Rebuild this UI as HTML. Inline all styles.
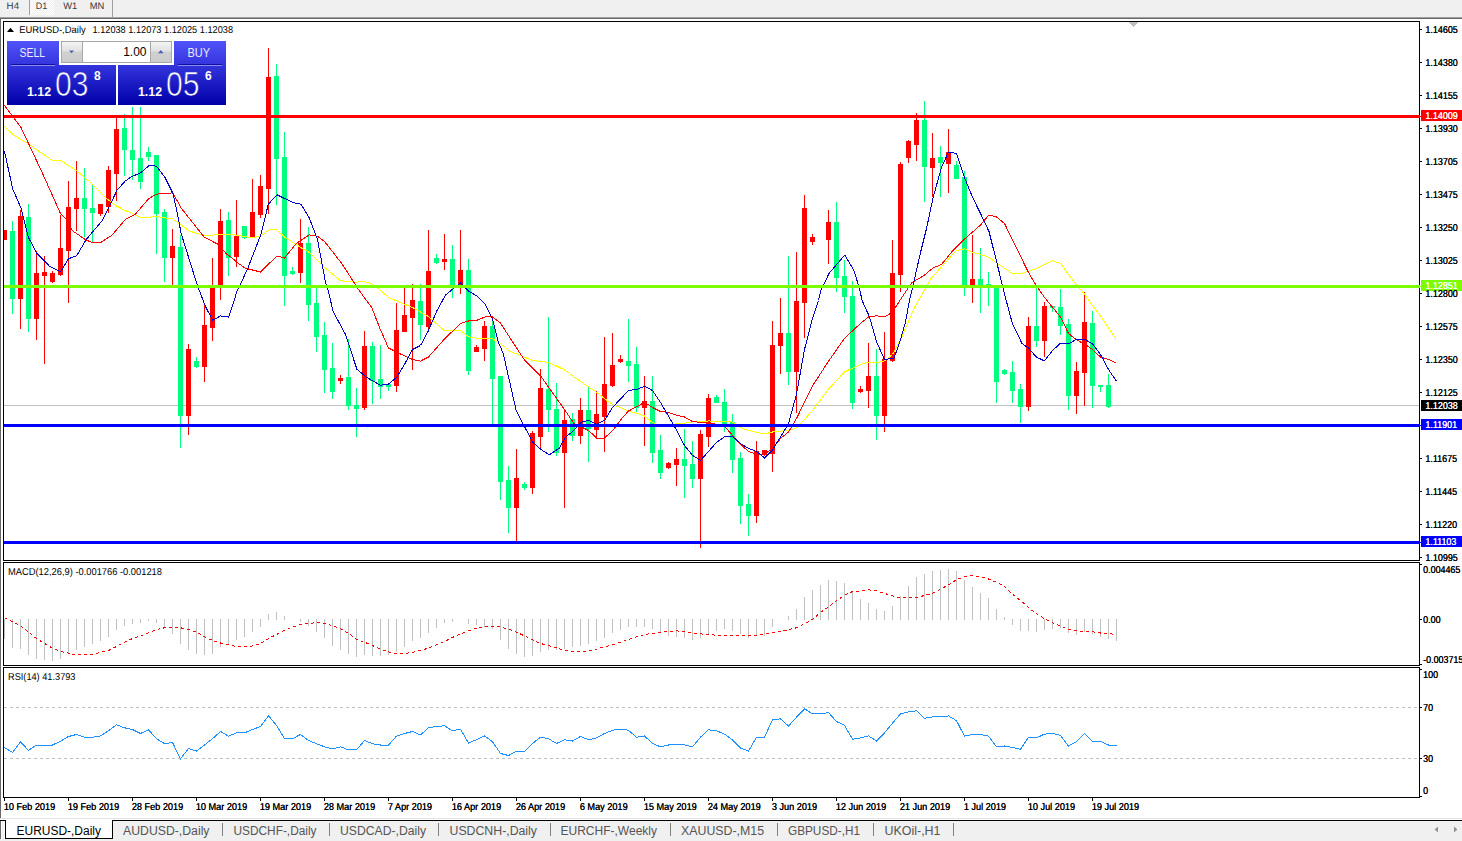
<!DOCTYPE html><html><head><meta charset="utf-8"><title>EURUSD-,Daily</title>
<style>
html,body{margin:0;padding:0;background:#fff;}
body{width:1462px;height:841px;overflow:hidden;position:relative;font-family:"Liberation Sans",sans-serif;}
svg{position:absolute;left:0;top:0;}
text{font-family:"Liberation Sans",sans-serif;}
.ax{font-size:10px;fill:#000;text-rendering:geometricPrecision;}
.tg{font-size:10px;fill:#fff;text-rendering:geometricPrecision;}
.tab{font-size:12px;fill:#555;}
</style></head><body>
<svg width="1462" height="841" viewBox="0 0 1462 841">
<rect x="0" y="0" width="1462" height="841" fill="#fff"/>
<rect x="0" y="0" width="1462" height="17" fill="#F0F0F0"/>
<rect x="0" y="17" width="1462" height="1" fill="#A0A0A0"/>
<rect x="0" y="18" width="1462" height="1" fill="#696969"/>
<rect x="0" y="19" width="1" height="799" fill="#696969"/>
<g shape-rendering="crispEdges">
<rect x="29" y="0" width="1" height="15" fill="#A0A0A0"/>
<rect x="112" y="0" width="1" height="17" fill="#A0A0A0"/>
<defs><pattern id="dith" width="2" height="2" patternUnits="userSpaceOnUse"><rect width="2" height="2" fill="#F0F0F0"/><rect width="1" height="1" fill="#fff"/><rect x="1" y="1" width="1" height="1" fill="#fff"/></pattern>
<linearGradient id="bg1" gradientUnits="userSpaceOnUse" x1="0" y1="41" x2="0" y2="105"><stop offset="0" stop-color="#5252FA"/><stop offset="0.38" stop-color="#3434DC"/><stop offset="1" stop-color="#0000A8"/></linearGradient>
<linearGradient id="btn" x1="0" y1="0" x2="0" y2="1"><stop offset="0" stop-color="#F4F4F4"/><stop offset="0.45" stop-color="#E2E2E2"/><stop offset="0.5" stop-color="#D0D0D0"/><stop offset="1" stop-color="#CDCDCD"/></linearGradient>
</defs>
<rect x="30" y="0" width="24" height="15" fill="url(#dith)"/>
</g>
<text x="6.6" y="8.7" font-size="9.3" fill="#3a3a3a" style="text-rendering:geometricPrecision" textLength="12.5" lengthAdjust="spacingAndGlyphs">H4</text>
<text x="35.7" y="8.7" font-size="9.3" fill="#3a3a3a" style="text-rendering:geometricPrecision" textLength="11.5" lengthAdjust="spacingAndGlyphs">D1</text>
<text x="63.2" y="8.7" font-size="9.3" fill="#3a3a3a" style="text-rendering:geometricPrecision" textLength="14" lengthAdjust="spacingAndGlyphs">W1</text>
<text x="89.7" y="8.7" font-size="9.3" fill="#3a3a3a" style="text-rendering:geometricPrecision" textLength="14.6" lengthAdjust="spacingAndGlyphs">MN</text>
<path d="M3.5 21.5H1419.5V560.5H3.5Z" fill="none" stroke="#000" stroke-width="1" shape-rendering="crispEdges"/>
<path d="M3.5 562.5H1419.5V665.5H3.5Z" fill="none" stroke="#000" stroke-width="1" shape-rendering="crispEdges"/>
<path d="M3.5 667.5H1419.5V797.5H3.5Z" fill="none" stroke="#000" stroke-width="1" shape-rendering="crispEdges"/>
<g shape-rendering="crispEdges">
<path d="M1129 22H1138L1133.5 27Z" fill="#C0C0C0"/>
<rect x="4" y="405" width="1415" height="1" fill="#C0C0C0"/>
<rect x="4" y="230" width="1" height="10" fill="#FF0000"/>
<rect x="4" y="230" width="3" height="10" fill="#FF0000"/>
<rect x="12" y="221" width="1" height="93" fill="#00FF7F"/>
<rect x="10" y="231" width="5" height="68" fill="#00FF7F"/>
<rect x="20" y="210" width="1" height="119" fill="#FF0000"/>
<rect x="18" y="216" width="5" height="83" fill="#FF0000"/>
<rect x="28" y="204" width="1" height="128" fill="#00FF7F"/>
<rect x="26" y="217" width="5" height="102" fill="#00FF7F"/>
<rect x="36" y="251" width="1" height="89" fill="#FF0000"/>
<rect x="34" y="273" width="5" height="46" fill="#FF0000"/>
<rect x="44" y="256" width="1" height="108" fill="#FF0000"/>
<rect x="42" y="272" width="5" height="4" fill="#FF0000"/>
<rect x="52" y="271" width="1" height="12" fill="#FF0000"/>
<rect x="50" y="273" width="5" height="9" fill="#FF0000"/>
<rect x="60" y="215" width="1" height="61" fill="#FF0000"/>
<rect x="58" y="248" width="5" height="27" fill="#FF0000"/>
<rect x="68" y="181" width="1" height="122" fill="#FF0000"/>
<rect x="66" y="207" width="5" height="44" fill="#FF0000"/>
<rect x="76" y="161" width="1" height="70" fill="#FF0000"/>
<rect x="74" y="198" width="5" height="11" fill="#FF0000"/>
<rect x="84" y="168" width="1" height="69" fill="#00FF7F"/>
<rect x="82" y="198" width="5" height="11" fill="#00FF7F"/>
<rect x="92" y="184" width="1" height="59" fill="#00FF7F"/>
<rect x="90" y="208" width="5" height="5" fill="#00FF7F"/>
<rect x="100" y="204" width="1" height="12" fill="#FF0000"/>
<rect x="98" y="204" width="5" height="10" fill="#FF0000"/>
<rect x="108" y="166" width="1" height="47" fill="#FF0000"/>
<rect x="106" y="170" width="5" height="37" fill="#FF0000"/>
<rect x="116" y="117" width="1" height="84" fill="#FF0000"/>
<rect x="114" y="129" width="5" height="45" fill="#FF0000"/>
<rect x="124" y="114" width="1" height="62" fill="#00FF7F"/>
<rect x="122" y="128" width="5" height="22" fill="#00FF7F"/>
<rect x="132" y="107" width="1" height="73" fill="#00FF7F"/>
<rect x="130" y="150" width="5" height="10" fill="#00FF7F"/>
<rect x="140" y="107" width="1" height="82" fill="#00FF7F"/>
<rect x="138" y="158" width="5" height="24" fill="#00FF7F"/>
<rect x="148" y="147" width="1" height="14" fill="#00FF7F"/>
<rect x="146" y="152" width="5" height="5" fill="#00FF7F"/>
<rect x="156" y="155" width="1" height="99" fill="#00FF7F"/>
<rect x="154" y="155" width="5" height="59" fill="#00FF7F"/>
<rect x="164" y="209" width="1" height="73" fill="#00FF7F"/>
<rect x="162" y="212" width="5" height="46" fill="#00FF7F"/>
<rect x="172" y="229" width="1" height="59" fill="#FF0000"/>
<rect x="170" y="246" width="5" height="12" fill="#FF0000"/>
<rect x="180" y="235" width="1" height="213" fill="#00FF7F"/>
<rect x="178" y="247" width="5" height="169" fill="#00FF7F"/>
<rect x="188" y="344" width="1" height="91" fill="#FF0000"/>
<rect x="186" y="349" width="5" height="67" fill="#FF0000"/>
<rect x="196" y="357" width="1" height="11" fill="#00FF7F"/>
<rect x="194" y="361" width="5" height="6" fill="#00FF7F"/>
<rect x="204" y="304" width="1" height="78" fill="#FF0000"/>
<rect x="202" y="325" width="5" height="42" fill="#FF0000"/>
<rect x="212" y="258" width="1" height="83" fill="#FF0000"/>
<rect x="210" y="288" width="5" height="40" fill="#FF0000"/>
<rect x="220" y="209" width="1" height="91" fill="#FF0000"/>
<rect x="218" y="221" width="5" height="65" fill="#FF0000"/>
<rect x="228" y="212" width="1" height="64" fill="#00FF7F"/>
<rect x="226" y="220" width="5" height="38" fill="#00FF7F"/>
<rect x="236" y="200" width="1" height="67" fill="#FF0000"/>
<rect x="234" y="236" width="5" height="21" fill="#FF0000"/>
<rect x="244" y="226" width="1" height="13" fill="#00FF7F"/>
<rect x="242" y="226" width="5" height="12" fill="#00FF7F"/>
<rect x="252" y="179" width="1" height="59" fill="#FF0000"/>
<rect x="250" y="212" width="5" height="26" fill="#FF0000"/>
<rect x="260" y="175" width="1" height="43" fill="#FF0000"/>
<rect x="258" y="186" width="5" height="29" fill="#FF0000"/>
<rect x="268" y="48" width="1" height="166" fill="#FF0000"/>
<rect x="266" y="77" width="5" height="112" fill="#FF0000"/>
<rect x="276" y="64" width="1" height="141" fill="#00FF7F"/>
<rect x="274" y="76" width="5" height="83" fill="#00FF7F"/>
<rect x="284" y="132" width="1" height="174" fill="#00FF7F"/>
<rect x="282" y="157" width="5" height="119" fill="#00FF7F"/>
<rect x="292" y="267" width="1" height="8" fill="#00FF7F"/>
<rect x="290" y="271" width="5" height="3" fill="#00FF7F"/>
<rect x="300" y="219" width="1" height="64" fill="#FF0000"/>
<rect x="298" y="243" width="5" height="30" fill="#FF0000"/>
<rect x="308" y="227" width="1" height="94" fill="#00FF7F"/>
<rect x="306" y="243" width="5" height="62" fill="#00FF7F"/>
<rect x="316" y="288" width="1" height="64" fill="#00FF7F"/>
<rect x="314" y="303" width="5" height="34" fill="#00FF7F"/>
<rect x="324" y="322" width="1" height="71" fill="#00FF7F"/>
<rect x="322" y="335" width="5" height="35" fill="#00FF7F"/>
<rect x="332" y="343" width="1" height="56" fill="#00FF7F"/>
<rect x="330" y="368" width="5" height="24" fill="#00FF7F"/>
<rect x="340" y="375" width="1" height="9" fill="#FF0000"/>
<rect x="338" y="378" width="5" height="3" fill="#FF0000"/>
<rect x="348" y="339" width="1" height="71" fill="#00FF7F"/>
<rect x="346" y="377" width="5" height="29" fill="#00FF7F"/>
<rect x="356" y="388" width="1" height="49" fill="#00FF7F"/>
<rect x="354" y="405" width="5" height="4" fill="#00FF7F"/>
<rect x="364" y="331" width="1" height="79" fill="#FF0000"/>
<rect x="362" y="346" width="5" height="62" fill="#FF0000"/>
<rect x="372" y="342" width="1" height="62" fill="#00FF7F"/>
<rect x="370" y="346" width="5" height="35" fill="#00FF7F"/>
<rect x="380" y="345" width="1" height="54" fill="#00FF7F"/>
<rect x="378" y="379" width="5" height="8" fill="#00FF7F"/>
<rect x="388" y="384" width="1" height="7" fill="#00FF7F"/>
<rect x="386" y="384" width="5" height="3" fill="#00FF7F"/>
<rect x="396" y="303" width="1" height="89" fill="#FF0000"/>
<rect x="394" y="330" width="5" height="56" fill="#FF0000"/>
<rect x="404" y="288" width="1" height="44" fill="#FF0000"/>
<rect x="402" y="315" width="5" height="17" fill="#FF0000"/>
<rect x="412" y="284" width="1" height="86" fill="#FF0000"/>
<rect x="410" y="300" width="5" height="18" fill="#FF0000"/>
<rect x="420" y="284" width="1" height="56" fill="#00FF7F"/>
<rect x="418" y="301" width="5" height="24" fill="#00FF7F"/>
<rect x="428" y="230" width="1" height="100" fill="#FF0000"/>
<rect x="426" y="271" width="5" height="56" fill="#FF0000"/>
<rect x="436" y="254" width="1" height="10" fill="#00FF7F"/>
<rect x="434" y="258" width="5" height="5" fill="#00FF7F"/>
<rect x="444" y="234" width="1" height="36" fill="#FF0000"/>
<rect x="442" y="259" width="5" height="3" fill="#FF0000"/>
<rect x="452" y="245" width="1" height="53" fill="#00FF7F"/>
<rect x="450" y="259" width="5" height="29" fill="#00FF7F"/>
<rect x="460" y="230" width="1" height="64" fill="#FF0000"/>
<rect x="458" y="270" width="5" height="16" fill="#FF0000"/>
<rect x="468" y="259" width="1" height="116" fill="#00FF7F"/>
<rect x="466" y="270" width="5" height="101" fill="#00FF7F"/>
<rect x="476" y="345" width="1" height="7" fill="#FF0000"/>
<rect x="474" y="347" width="5" height="5" fill="#FF0000"/>
<rect x="484" y="321" width="1" height="40" fill="#FF0000"/>
<rect x="482" y="326" width="5" height="23" fill="#FF0000"/>
<rect x="492" y="318" width="1" height="109" fill="#00FF7F"/>
<rect x="490" y="326" width="5" height="53" fill="#00FF7F"/>
<rect x="500" y="376" width="1" height="124" fill="#00FF7F"/>
<rect x="498" y="376" width="5" height="106" fill="#00FF7F"/>
<rect x="508" y="466" width="1" height="67" fill="#00FF7F"/>
<rect x="506" y="480" width="5" height="28" fill="#00FF7F"/>
<rect x="516" y="449" width="1" height="93" fill="#FF0000"/>
<rect x="514" y="478" width="5" height="30" fill="#FF0000"/>
<rect x="524" y="482" width="1" height="8" fill="#00FF7F"/>
<rect x="522" y="484" width="5" height="4" fill="#00FF7F"/>
<rect x="532" y="431" width="1" height="63" fill="#FF0000"/>
<rect x="530" y="433" width="5" height="55" fill="#FF0000"/>
<rect x="540" y="369" width="1" height="80" fill="#FF0000"/>
<rect x="538" y="388" width="5" height="49" fill="#FF0000"/>
<rect x="548" y="317" width="1" height="115" fill="#00FF7F"/>
<rect x="546" y="389" width="5" height="21" fill="#00FF7F"/>
<rect x="556" y="383" width="1" height="73" fill="#00FF7F"/>
<rect x="554" y="409" width="5" height="44" fill="#00FF7F"/>
<rect x="564" y="410" width="1" height="98" fill="#FF0000"/>
<rect x="562" y="420" width="5" height="33" fill="#FF0000"/>
<rect x="572" y="413" width="1" height="28" fill="#00FF7F"/>
<rect x="570" y="419" width="5" height="17" fill="#00FF7F"/>
<rect x="580" y="398" width="1" height="46" fill="#FF0000"/>
<rect x="578" y="410" width="5" height="26" fill="#FF0000"/>
<rect x="588" y="386" width="1" height="76" fill="#00FF7F"/>
<rect x="586" y="410" width="5" height="19" fill="#00FF7F"/>
<rect x="596" y="391" width="1" height="48" fill="#FF0000"/>
<rect x="594" y="414" width="5" height="16" fill="#FF0000"/>
<rect x="604" y="337" width="1" height="115" fill="#FF0000"/>
<rect x="602" y="384" width="5" height="33" fill="#FF0000"/>
<rect x="612" y="333" width="1" height="54" fill="#FF0000"/>
<rect x="610" y="365" width="5" height="21" fill="#FF0000"/>
<rect x="620" y="355" width="1" height="8" fill="#FF0000"/>
<rect x="618" y="359" width="5" height="3" fill="#FF0000"/>
<rect x="628" y="319" width="1" height="63" fill="#00FF7F"/>
<rect x="626" y="361" width="5" height="5" fill="#00FF7F"/>
<rect x="636" y="347" width="1" height="65" fill="#00FF7F"/>
<rect x="634" y="364" width="5" height="44" fill="#00FF7F"/>
<rect x="644" y="376" width="1" height="70" fill="#FF0000"/>
<rect x="642" y="401" width="5" height="7" fill="#FF0000"/>
<rect x="652" y="376" width="1" height="87" fill="#00FF7F"/>
<rect x="650" y="401" width="5" height="52" fill="#00FF7F"/>
<rect x="660" y="435" width="1" height="44" fill="#00FF7F"/>
<rect x="658" y="450" width="5" height="23" fill="#00FF7F"/>
<rect x="668" y="462" width="1" height="7" fill="#FF0000"/>
<rect x="666" y="463" width="5" height="5" fill="#FF0000"/>
<rect x="676" y="448" width="1" height="38" fill="#FF0000"/>
<rect x="674" y="459" width="5" height="6" fill="#FF0000"/>
<rect x="684" y="429" width="1" height="69" fill="#00FF7F"/>
<rect x="682" y="459" width="5" height="7" fill="#00FF7F"/>
<rect x="692" y="441" width="1" height="47" fill="#00FF7F"/>
<rect x="690" y="464" width="5" height="15" fill="#00FF7F"/>
<rect x="700" y="430" width="1" height="118" fill="#FF0000"/>
<rect x="698" y="434" width="5" height="45" fill="#FF0000"/>
<rect x="708" y="394" width="1" height="53" fill="#FF0000"/>
<rect x="706" y="398" width="5" height="39" fill="#FF0000"/>
<rect x="716" y="395" width="1" height="8" fill="#00FF7F"/>
<rect x="714" y="397" width="5" height="6" fill="#00FF7F"/>
<rect x="724" y="389" width="1" height="43" fill="#00FF7F"/>
<rect x="722" y="402" width="5" height="25" fill="#00FF7F"/>
<rect x="732" y="414" width="1" height="59" fill="#00FF7F"/>
<rect x="730" y="422" width="5" height="38" fill="#00FF7F"/>
<rect x="740" y="452" width="1" height="72" fill="#00FF7F"/>
<rect x="738" y="458" width="5" height="48" fill="#00FF7F"/>
<rect x="748" y="494" width="1" height="42" fill="#00FF7F"/>
<rect x="746" y="504" width="5" height="12" fill="#00FF7F"/>
<rect x="756" y="441" width="1" height="82" fill="#FF0000"/>
<rect x="754" y="451" width="5" height="65" fill="#FF0000"/>
<rect x="764" y="450" width="1" height="6" fill="#FF0000"/>
<rect x="762" y="450" width="5" height="5" fill="#FF0000"/>
<rect x="772" y="321" width="1" height="151" fill="#FF0000"/>
<rect x="770" y="345" width="5" height="109" fill="#FF0000"/>
<rect x="780" y="298" width="1" height="76" fill="#FF0000"/>
<rect x="778" y="333" width="5" height="13" fill="#FF0000"/>
<rect x="788" y="256" width="1" height="129" fill="#00FF7F"/>
<rect x="786" y="333" width="5" height="39" fill="#00FF7F"/>
<rect x="796" y="252" width="1" height="161" fill="#FF0000"/>
<rect x="794" y="301" width="5" height="71" fill="#FF0000"/>
<rect x="804" y="195" width="1" height="143" fill="#FF0000"/>
<rect x="802" y="208" width="5" height="95" fill="#FF0000"/>
<rect x="812" y="234" width="1" height="11" fill="#FF0000"/>
<rect x="810" y="237" width="5" height="5" fill="#FF0000"/>
<rect x="828" y="210" width="1" height="54" fill="#FF0000"/>
<rect x="826" y="222" width="5" height="18" fill="#FF0000"/>
<rect x="836" y="202" width="1" height="90" fill="#00FF7F"/>
<rect x="834" y="222" width="5" height="56" fill="#00FF7F"/>
<rect x="844" y="260" width="1" height="53" fill="#00FF7F"/>
<rect x="842" y="276" width="5" height="21" fill="#00FF7F"/>
<rect x="852" y="281" width="1" height="128" fill="#00FF7F"/>
<rect x="850" y="296" width="5" height="107" fill="#00FF7F"/>
<rect x="860" y="386" width="1" height="7" fill="#FF0000"/>
<rect x="858" y="389" width="5" height="3" fill="#FF0000"/>
<rect x="868" y="343" width="1" height="65" fill="#FF0000"/>
<rect x="866" y="376" width="5" height="15" fill="#FF0000"/>
<rect x="876" y="349" width="1" height="91" fill="#00FF7F"/>
<rect x="874" y="376" width="5" height="40" fill="#00FF7F"/>
<rect x="884" y="332" width="1" height="100" fill="#FF0000"/>
<rect x="882" y="359" width="5" height="57" fill="#FF0000"/>
<rect x="892" y="240" width="1" height="122" fill="#FF0000"/>
<rect x="890" y="273" width="5" height="88" fill="#FF0000"/>
<rect x="900" y="162" width="1" height="130" fill="#FF0000"/>
<rect x="898" y="164" width="5" height="111" fill="#FF0000"/>
<rect x="908" y="140" width="1" height="23" fill="#FF0000"/>
<rect x="906" y="141" width="5" height="17" fill="#FF0000"/>
<rect x="916" y="113" width="1" height="48" fill="#FF0000"/>
<rect x="914" y="120" width="5" height="25" fill="#FF0000"/>
<rect x="924" y="101" width="1" height="101" fill="#00FF7F"/>
<rect x="922" y="120" width="5" height="47" fill="#00FF7F"/>
<rect x="932" y="133" width="1" height="64" fill="#FF0000"/>
<rect x="930" y="158" width="5" height="10" fill="#FF0000"/>
<rect x="940" y="146" width="1" height="51" fill="#00FF7F"/>
<rect x="938" y="157" width="5" height="6" fill="#00FF7F"/>
<rect x="948" y="129" width="1" height="64" fill="#FF0000"/>
<rect x="946" y="152" width="5" height="12" fill="#FF0000"/>
<rect x="956" y="161" width="1" height="18" fill="#00FF7F"/>
<rect x="954" y="165" width="5" height="14" fill="#00FF7F"/>
<rect x="964" y="171" width="1" height="125" fill="#00FF7F"/>
<rect x="962" y="177" width="5" height="110" fill="#00FF7F"/>
<rect x="972" y="235" width="1" height="68" fill="#FF0000"/>
<rect x="970" y="279" width="5" height="7" fill="#FF0000"/>
<rect x="980" y="248" width="1" height="65" fill="#00FF7F"/>
<rect x="978" y="279" width="5" height="7" fill="#00FF7F"/>
<rect x="988" y="272" width="1" height="34" fill="#00FF7F"/>
<rect x="986" y="284" width="5" height="2" fill="#00FF7F"/>
<rect x="996" y="285" width="1" height="118" fill="#00FF7F"/>
<rect x="994" y="285" width="5" height="97" fill="#00FF7F"/>
<rect x="1004" y="369" width="1" height="6" fill="#00FF7F"/>
<rect x="1002" y="370" width="5" height="4" fill="#00FF7F"/>
<rect x="1012" y="361" width="1" height="42" fill="#00FF7F"/>
<rect x="1010" y="372" width="5" height="19" fill="#00FF7F"/>
<rect x="1020" y="384" width="1" height="39" fill="#00FF7F"/>
<rect x="1018" y="389" width="5" height="18" fill="#00FF7F"/>
<rect x="1028" y="317" width="1" height="94" fill="#FF0000"/>
<rect x="1026" y="326" width="5" height="81" fill="#FF0000"/>
<rect x="1036" y="288" width="1" height="59" fill="#00FF7F"/>
<rect x="1034" y="326" width="5" height="15" fill="#00FF7F"/>
<rect x="1044" y="302" width="1" height="55" fill="#FF0000"/>
<rect x="1042" y="306" width="5" height="35" fill="#FF0000"/>
<rect x="1052" y="306" width="1" height="6" fill="#00FF7F"/>
<rect x="1050" y="306" width="5" height="2" fill="#00FF7F"/>
<rect x="1060" y="289" width="1" height="46" fill="#00FF7F"/>
<rect x="1058" y="307" width="5" height="19" fill="#00FF7F"/>
<rect x="1068" y="319" width="1" height="91" fill="#00FF7F"/>
<rect x="1066" y="324" width="5" height="72" fill="#00FF7F"/>
<rect x="1076" y="362" width="1" height="52" fill="#FF0000"/>
<rect x="1074" y="371" width="5" height="25" fill="#FF0000"/>
<rect x="1084" y="292" width="1" height="114" fill="#FF0000"/>
<rect x="1082" y="322" width="5" height="51" fill="#FF0000"/>
<rect x="1092" y="311" width="1" height="97" fill="#00FF7F"/>
<rect x="1090" y="323" width="5" height="63" fill="#00FF7F"/>
<rect x="1100" y="385" width="1" height="7" fill="#00FF7F"/>
<rect x="1098" y="385" width="5" height="2" fill="#00FF7F"/>
<rect x="1108" y="374" width="1" height="34" fill="#00FF7F"/>
<rect x="1106" y="385" width="5" height="22" fill="#00FF7F"/>
<polyline points="4.5,126.5 13.5,135.0 28.5,144.0 53.0,160.9 61.2,160.9 76.0,170.3 92.5,184.2 107.2,199.0 115.5,205.5 125.3,210.5 141.5,217.8 156.5,216.5 172.9,219.0 189.3,231.0 204.5,235.9 220.5,234.2 230.5,234.2 240.5,236.0 251.8,237.8 260.5,236.2 269.1,229.9 277.0,229.9 284.5,237.0 301.1,247.7 309.3,252.5 322.5,265.7 340.5,280.8 355.3,282.2 363.5,281.7 371.7,283.8 380.7,290.5 388.5,297.5 412.5,307.5 428.5,316.5 444.0,330.5 460.5,330.5 468.5,336.8 476.9,338.4 492.5,338.8 500.5,343.5 509.5,351.0 532.5,360.5 549.2,362.5 564.5,369.9 580.5,381.5 596.5,392.1 604.5,398.5 612.5,404.5 628.5,411.0 636.5,413.1 644.5,415.9 652.5,422.5 657.5,424.5 674.0,424.1 684.5,423.3 692.5,422.0 708.5,421.0 724.5,421.2 732.5,422.1 744.5,429.5 756.5,432.3 764.5,434.0 772.5,432.0 780.5,431.2 788.5,430.4 796.5,427.9 800.5,423.5 803.5,420.5 812.5,410.5 828.5,389.2 844.5,371.9 860.5,364.5 868.5,362.1 876.5,362.9 884.5,360.9 892.5,354.5 901.2,338.5 914.5,307.5 931.0,278.5 944.5,263.5 956.2,250.5 964.5,248.9 972.5,252.2 980.5,254.5 988.5,257.1 996.5,262.9 1012.5,273.5 1020.5,273.9 1028.5,271.1 1036.5,268.5 1044.5,264.5 1052.5,260.9 1060.5,263.5 1068.5,274.4 1076.5,285.1 1084.5,294.1 1092.5,305.5 1100.5,316.0 1108.5,328.0 1116.3,339.1" fill="none" stroke="#FFFF00" stroke-width="1" />
<polyline points="4.5,105.5 21.0,127.5 41.5,171.1 54.7,200.5 60.5,213.5 66.2,219.4 72.7,230.9 85.9,239.9 92.5,242.7 100.5,242.7 112.2,235.0 125.3,219.5 135.1,214.5 148.3,199.0 156.5,194.1 172.9,192.9 177.0,200.5 181.1,208.0 204.1,237.0 218.9,244.8 227.1,254.7 230.5,256.5 237.1,262.5 245.3,268.2 260.5,272.0 277.0,255.9 284.5,258.0 296.2,243.5 309.3,234.9 317.5,236.2 324.9,241.9 342.2,264.1 358.5,289.5 371.7,307.5 380.5,329.9 388.5,348.0 396.5,352.1 412.5,359.5 420.5,361.1 428.5,357.0 444.0,339.5 460.5,323.5 468.5,321.0 476.9,320.3 485.1,316.9 492.5,316.9 500.5,323.1 509.5,337.1 524.5,360.1 541.0,376.5 549.2,388.0 565.5,411.0 573.8,423.3 588.5,430.5 596.8,438.1 604.5,438.1 614.0,429.0 620.5,420.0 628.5,411.0 636.5,406.9 644.5,402.3 652.5,407.5 660.5,411.5 668.5,412.5 676.5,415.1 684.5,417.0 692.5,421.5 700.5,422.5 708.5,422.5 724.5,426.2 732.5,435.3 740.5,444.3 748.5,451.5 756.5,454.2 764.5,454.2 772.5,448.5 780.5,438.5 788.5,432.0 796.5,418.5 804.5,402.3 812.5,385.9 828.5,361.3 844.5,338.3 860.5,323.5 868.5,316.9 876.5,315.8 884.5,316.9 890.5,313.5 895.5,307.2 899.9,300.5 911.8,282.5 923.3,276.0 933.2,267.8 941.5,264.5 952.9,250.5 964.5,239.1 980.5,225.1 989.0,214.9 996.5,216.9 1004.5,223.5 1012.5,239.9 1020.5,256.3 1028.5,272.5 1036.5,285.9 1044.5,297.4 1052.5,307.2 1060.5,317.0 1068.5,333.5 1076.5,339.9 1084.5,344.0 1092.5,349.5 1100.5,357.1 1108.5,359.5 1116.3,362.9" fill="none" stroke="#FF0000" stroke-width="1" />
<polyline points="4.5,151.5 12.8,189.2 21.0,208.0 28.5,237.5 36.5,253.0 49.5,266.2 60.5,271.9 68.5,258.8 76.9,255.5 85.9,239.9 102.3,220.5 112.2,200.5 117.1,190.0 125.3,181.0 131.9,176.4 140.1,173.2 149.9,165.0 156.5,166.2 164.7,176.9 172.9,193.3 177.8,215.5 181.1,233.3 197.5,285.9 205.8,307.2 212.7,320.4 220.5,315.9 228.5,317.1 233.7,302.3 237.1,290.5 240.5,284.2 247.5,269.0 260.9,234.5 268.3,204.2 277.0,194.8 292.9,202.5 301.1,204.2 309.3,218.1 317.5,239.5 325.5,282.2 328.2,290.5 333.1,311.5 345.5,334.5 356.9,369.3 366.8,377.5 380.5,385.2 388.5,384.1 396.5,377.5 404.5,364.4 412.5,349.5 420.5,345.5 428.5,330.5 436.5,311.5 445.5,295.0 453.5,288.5 460.5,283.0 468.5,291.1 476.9,296.0 485.1,304.2 492.5,319.0 498.3,342.0 503.2,353.5 516.3,411.0 532.7,442.2 541.0,449.5 549.2,454.8 559.0,448.5 565.5,437.2 573.8,430.5 581.2,422.1 588.5,420.5 596.5,424.1 604.5,420.5 612.5,407.5 628.5,390.5 636.5,389.5 644.5,386.3 652.5,390.5 660.5,402.5 674.0,425.5 684.5,445.5 692.5,455.3 700.5,460.5 708.5,451.5 716.5,442.5 724.5,436.9 732.5,436.5 740.5,443.5 748.5,448.5 756.5,451.4 764.5,457.9 772.5,450.1 780.5,436.9 788.5,423.8 796.5,394.1 804.5,349.5 812.5,318.5 818.5,300.5 821.0,290.4 829.2,273.1 844.8,255.1 853.9,270.5 859.5,288.5 862.1,300.5 869.5,316.9 876.5,341.5 884.5,359.5 894.1,358.0 900.5,339.9 905.5,321.8 909.5,300.5 913.8,282.2 920.5,252.5 926.5,228.5 933.2,197.2 941.5,167.5 948.5,152.1 956.5,153.4 964.5,177.5 972.5,197.2 980.5,213.5 989.0,231.5 996.5,261.3 1004.5,294.1 1012.5,324.0 1021.9,343.2 1028.5,348.1 1036.5,357.2 1044.5,360.9 1052.5,350.5 1060.5,343.2 1068.5,344.0 1076.5,339.1 1084.5,339.1 1092.5,344.0 1100.5,354.5 1108.5,369.5 1116.3,381.0" fill="none" stroke="#0000CD" stroke-width="1" />
<rect x="4" y="115" width="1416" height="3" fill="#FF0000"/><rect x="1420" y="116" width="1" height="1" fill="#FF0000"/>
<rect x="4" y="285" width="1416" height="3" fill="#7CFC00"/><rect x="1420" y="286" width="1" height="1" fill="#7CFC00"/>
<rect x="4" y="424" width="1416" height="3" fill="#0000FF"/><rect x="1420" y="425" width="1" height="1" fill="#0000FF"/>
<rect x="4" y="541" width="1416" height="3" fill="#0000FF"/><rect x="1420" y="542" width="1" height="1" fill="#0000FF"/>
<rect x="4" y="619" width="1" height="20" fill="#C0C0C0"/>
<rect x="12" y="619" width="1" height="29" fill="#C0C0C0"/>
<rect x="20" y="619" width="1" height="30" fill="#C0C0C0"/>
<rect x="28" y="619" width="1" height="36" fill="#C0C0C0"/>
<rect x="36" y="619" width="1" height="40" fill="#C0C0C0"/>
<rect x="44" y="619" width="1" height="41" fill="#C0C0C0"/>
<rect x="52" y="619" width="1" height="42" fill="#C0C0C0"/>
<rect x="60" y="619" width="1" height="40" fill="#C0C0C0"/>
<rect x="68" y="619" width="1" height="35" fill="#C0C0C0"/>
<rect x="76" y="619" width="1" height="31" fill="#C0C0C0"/>
<rect x="84" y="619" width="1" height="28" fill="#C0C0C0"/>
<rect x="92" y="619" width="1" height="25" fill="#C0C0C0"/>
<rect x="100" y="619" width="1" height="22" fill="#C0C0C0"/>
<rect x="108" y="619" width="1" height="18" fill="#C0C0C0"/>
<rect x="116" y="619" width="1" height="11" fill="#C0C0C0"/>
<rect x="124" y="619" width="1" height="7" fill="#C0C0C0"/>
<rect x="132" y="619" width="1" height="5" fill="#C0C0C0"/>
<rect x="140" y="619" width="1" height="4" fill="#C0C0C0"/>
<rect x="148" y="619" width="1" height="2" fill="#C0C0C0"/>
<rect x="156" y="619" width="1" height="4" fill="#C0C0C0"/>
<rect x="164" y="619" width="1" height="9" fill="#C0C0C0"/>
<rect x="172" y="619" width="1" height="15" fill="#C0C0C0"/>
<rect x="180" y="619" width="1" height="25" fill="#C0C0C0"/>
<rect x="188" y="619" width="1" height="31" fill="#C0C0C0"/>
<rect x="196" y="619" width="1" height="35" fill="#C0C0C0"/>
<rect x="204" y="619" width="1" height="36" fill="#C0C0C0"/>
<rect x="212" y="619" width="1" height="35" fill="#C0C0C0"/>
<rect x="220" y="619" width="1" height="28" fill="#C0C0C0"/>
<rect x="228" y="619" width="1" height="25" fill="#C0C0C0"/>
<rect x="236" y="619" width="1" height="21" fill="#C0C0C0"/>
<rect x="244" y="619" width="1" height="18" fill="#C0C0C0"/>
<rect x="252" y="619" width="1" height="13" fill="#C0C0C0"/>
<rect x="260" y="619" width="1" height="8" fill="#C0C0C0"/>
<rect x="268" y="614" width="1" height="6" fill="#C0C0C0"/>
<rect x="276" y="612" width="1" height="8" fill="#C0C0C0"/>
<rect x="284" y="616" width="1" height="4" fill="#C0C0C0"/>
<rect x="300" y="619" width="1" height="3" fill="#C0C0C0"/>
<rect x="308" y="619" width="1" height="7" fill="#C0C0C0"/>
<rect x="316" y="619" width="1" height="13" fill="#C0C0C0"/>
<rect x="324" y="619" width="1" height="19" fill="#C0C0C0"/>
<rect x="332" y="619" width="1" height="27" fill="#C0C0C0"/>
<rect x="340" y="619" width="1" height="31" fill="#C0C0C0"/>
<rect x="348" y="619" width="1" height="35" fill="#C0C0C0"/>
<rect x="356" y="619" width="1" height="38" fill="#C0C0C0"/>
<rect x="364" y="619" width="1" height="36" fill="#C0C0C0"/>
<rect x="372" y="619" width="1" height="37" fill="#C0C0C0"/>
<rect x="380" y="619" width="1" height="37" fill="#C0C0C0"/>
<rect x="388" y="619" width="1" height="36" fill="#C0C0C0"/>
<rect x="396" y="619" width="1" height="33" fill="#C0C0C0"/>
<rect x="404" y="619" width="1" height="28" fill="#C0C0C0"/>
<rect x="412" y="619" width="1" height="22" fill="#C0C0C0"/>
<rect x="420" y="619" width="1" height="19" fill="#C0C0C0"/>
<rect x="428" y="619" width="1" height="14" fill="#C0C0C0"/>
<rect x="436" y="619" width="1" height="9" fill="#C0C0C0"/>
<rect x="444" y="619" width="1" height="4" fill="#C0C0C0"/>
<rect x="452" y="619" width="1" height="3" fill="#C0C0C0"/>
<rect x="468" y="619" width="1" height="5" fill="#C0C0C0"/>
<rect x="476" y="619" width="1" height="6" fill="#C0C0C0"/>
<rect x="484" y="619" width="1" height="8" fill="#C0C0C0"/>
<rect x="492" y="619" width="1" height="10" fill="#C0C0C0"/>
<rect x="500" y="619" width="1" height="21" fill="#C0C0C0"/>
<rect x="508" y="619" width="1" height="30" fill="#C0C0C0"/>
<rect x="516" y="619" width="1" height="35" fill="#C0C0C0"/>
<rect x="524" y="619" width="1" height="38" fill="#C0C0C0"/>
<rect x="532" y="619" width="1" height="37" fill="#C0C0C0"/>
<rect x="540" y="619" width="1" height="33" fill="#C0C0C0"/>
<rect x="548" y="619" width="1" height="31" fill="#C0C0C0"/>
<rect x="556" y="619" width="1" height="31" fill="#C0C0C0"/>
<rect x="564" y="619" width="1" height="30" fill="#C0C0C0"/>
<rect x="572" y="619" width="1" height="28" fill="#C0C0C0"/>
<rect x="580" y="619" width="1" height="27" fill="#C0C0C0"/>
<rect x="588" y="619" width="1" height="25" fill="#C0C0C0"/>
<rect x="596" y="619" width="1" height="22" fill="#C0C0C0"/>
<rect x="604" y="619" width="1" height="19" fill="#C0C0C0"/>
<rect x="612" y="619" width="1" height="14" fill="#C0C0C0"/>
<rect x="620" y="619" width="1" height="11" fill="#C0C0C0"/>
<rect x="628" y="619" width="1" height="8" fill="#C0C0C0"/>
<rect x="636" y="619" width="1" height="8" fill="#C0C0C0"/>
<rect x="644" y="619" width="1" height="8" fill="#C0C0C0"/>
<rect x="652" y="619" width="1" height="10" fill="#C0C0C0"/>
<rect x="660" y="619" width="1" height="14" fill="#C0C0C0"/>
<rect x="668" y="619" width="1" height="17" fill="#C0C0C0"/>
<rect x="676" y="619" width="1" height="18" fill="#C0C0C0"/>
<rect x="684" y="619" width="1" height="19" fill="#C0C0C0"/>
<rect x="692" y="619" width="1" height="21" fill="#C0C0C0"/>
<rect x="700" y="619" width="1" height="19" fill="#C0C0C0"/>
<rect x="708" y="619" width="1" height="15" fill="#C0C0C0"/>
<rect x="716" y="619" width="1" height="12" fill="#C0C0C0"/>
<rect x="724" y="619" width="1" height="10" fill="#C0C0C0"/>
<rect x="732" y="619" width="1" height="12" fill="#C0C0C0"/>
<rect x="740" y="619" width="1" height="15" fill="#C0C0C0"/>
<rect x="748" y="619" width="1" height="19" fill="#C0C0C0"/>
<rect x="756" y="619" width="1" height="17" fill="#C0C0C0"/>
<rect x="764" y="619" width="1" height="17" fill="#C0C0C0"/>
<rect x="772" y="619" width="1" height="8" fill="#C0C0C0"/>
<rect x="788" y="616" width="1" height="4" fill="#C0C0C0"/>
<rect x="796" y="609" width="1" height="11" fill="#C0C0C0"/>
<rect x="804" y="597" width="1" height="23" fill="#C0C0C0"/>
<rect x="812" y="590" width="1" height="30" fill="#C0C0C0"/>
<rect x="820" y="585" width="1" height="35" fill="#C0C0C0"/>
<rect x="828" y="580" width="1" height="40" fill="#C0C0C0"/>
<rect x="836" y="581" width="1" height="39" fill="#C0C0C0"/>
<rect x="844" y="583" width="1" height="37" fill="#C0C0C0"/>
<rect x="852" y="591" width="1" height="29" fill="#C0C0C0"/>
<rect x="860" y="599" width="1" height="21" fill="#C0C0C0"/>
<rect x="868" y="603" width="1" height="17" fill="#C0C0C0"/>
<rect x="876" y="609" width="1" height="11" fill="#C0C0C0"/>
<rect x="884" y="611" width="1" height="9" fill="#C0C0C0"/>
<rect x="892" y="606" width="1" height="14" fill="#C0C0C0"/>
<rect x="900" y="596" width="1" height="24" fill="#C0C0C0"/>
<rect x="908" y="586" width="1" height="34" fill="#C0C0C0"/>
<rect x="916" y="577" width="1" height="43" fill="#C0C0C0"/>
<rect x="924" y="574" width="1" height="46" fill="#C0C0C0"/>
<rect x="932" y="571" width="1" height="49" fill="#C0C0C0"/>
<rect x="940" y="570" width="1" height="50" fill="#C0C0C0"/>
<rect x="948" y="569" width="1" height="51" fill="#C0C0C0"/>
<rect x="956" y="571" width="1" height="49" fill="#C0C0C0"/>
<rect x="964" y="580" width="1" height="40" fill="#C0C0C0"/>
<rect x="972" y="587" width="1" height="33" fill="#C0C0C0"/>
<rect x="980" y="593" width="1" height="27" fill="#C0C0C0"/>
<rect x="988" y="598" width="1" height="22" fill="#C0C0C0"/>
<rect x="996" y="609" width="1" height="11" fill="#C0C0C0"/>
<rect x="1004" y="617" width="1" height="3" fill="#C0C0C0"/>
<rect x="1012" y="619" width="1" height="6" fill="#C0C0C0"/>
<rect x="1020" y="619" width="1" height="12" fill="#C0C0C0"/>
<rect x="1028" y="619" width="1" height="12" fill="#C0C0C0"/>
<rect x="1036" y="619" width="1" height="13" fill="#C0C0C0"/>
<rect x="1044" y="619" width="1" height="11" fill="#C0C0C0"/>
<rect x="1052" y="619" width="1" height="10" fill="#C0C0C0"/>
<rect x="1060" y="619" width="1" height="9" fill="#C0C0C0"/>
<rect x="1068" y="619" width="1" height="14" fill="#C0C0C0"/>
<rect x="1076" y="619" width="1" height="16" fill="#C0C0C0"/>
<rect x="1084" y="619" width="1" height="13" fill="#C0C0C0"/>
<rect x="1092" y="619" width="1" height="15" fill="#C0C0C0"/>
<rect x="1100" y="619" width="1" height="18" fill="#C0C0C0"/>
<rect x="1108" y="619" width="1" height="20" fill="#C0C0C0"/>
<rect x="1116" y="619" width="1" height="22" fill="#C0C0C0"/>
<polyline points="4.5,617.7 12.5,622.0 20.5,625.8 28.5,632.1 36.5,638.5 44.5,643.5 52.5,648.1 60.5,651.5 68.5,653.1 76.5,654.9 84.5,654.9 92.5,654.1 100.5,652.4 108.5,650.5 116.5,646.5 124.5,642.2 132.5,638.5 140.5,635.9 148.5,632.9 156.5,629.5 164.5,627.8 172.5,627.1 180.5,627.8 188.5,629.5 196.5,632.1 204.5,636.7 212.5,640.5 220.5,643.0 228.5,644.8 236.5,646.5 244.5,646.8 252.5,646.0 260.5,643.5 268.5,638.5 276.5,634.5 284.5,630.3 292.5,627.1 300.5,624.5 308.5,623.3 316.5,622.8 324.5,623.3 332.5,625.8 340.5,628.8 348.5,633.4 356.5,639.2 364.5,642.2 372.5,645.5 380.5,649.1 388.5,651.9 396.5,653.5 404.5,653.5 412.5,652.4 420.5,650.5 428.5,648.1 436.5,644.8 444.5,641.5 452.5,637.5 460.5,633.9 468.5,630.9 476.5,628.3 484.5,627.1 492.5,626.3 500.5,627.1 508.5,629.1 516.5,632.1 524.5,635.9 532.5,639.7 540.5,643.5 548.5,645.5 556.5,647.8 564.5,650.3 572.5,651.9 580.5,651.9 588.5,651.1 596.5,649.1 604.5,646.8 612.5,644.8 620.5,642.2 628.5,639.7 636.5,636.7 644.5,634.5 652.5,633.4 660.5,632.1 668.5,631.5 676.5,630.9 684.5,631.5 692.5,632.9 700.5,633.9 708.5,634.5 716.5,635.2 724.5,635.2 732.5,635.2 740.5,635.3 748.5,635.4 756.5,635.2 764.5,634.1 772.5,632.9 780.5,631.5 788.5,629.5 796.5,627.8 804.5,624.0 812.5,619.5 820.5,612.5 828.5,606.8 836.5,600.5 844.5,595.4 852.5,591.5 860.5,590.9 868.5,589.8 876.5,590.9 884.5,593.4 892.5,595.9 900.5,597.9 908.5,597.9 916.5,597.9 924.5,595.4 932.5,593.4 940.5,589.1 948.5,584.8 956.5,579.7 964.5,576.9 972.5,575.7 980.5,576.9 988.5,579.0 996.5,582.2 1004.5,586.5 1012.5,594.1 1020.5,600.5 1028.5,607.5 1036.5,613.9 1044.5,618.7 1052.5,622.8 1060.5,625.8 1068.5,629.5 1076.5,630.9 1084.5,631.2 1092.5,631.7 1100.5,633.0 1108.5,633.0 1116.5,635.1" fill="none" stroke="#FF0000" stroke-width="1" stroke-dasharray="3,3"/>
<path d="M4 707.5H1419" stroke="#C0C0C0" stroke-width="1" stroke-dasharray="3,3" fill="none"/>
<path d="M4 758.5H1419" stroke="#C0C0C0" stroke-width="1" stroke-dasharray="3,3" fill="none"/>
<polyline points="4.5,747.5 12.5,752.5 20.5,741.7 28.5,750.5 36.5,745.0 44.5,745.0 52.5,745.0 60.5,741.2 68.5,736.5 76.5,734.5 84.5,737.2 92.5,737.2 100.5,735.9 108.5,730.8 116.5,724.8 124.5,727.8 132.5,729.5 140.5,733.5 148.5,729.8 156.5,738.7 164.5,743.7 172.5,742.5 180.5,758.9 188.5,748.5 196.5,751.1 204.5,745.0 212.5,738.7 220.5,731.5 228.5,736.1 236.5,732.9 244.5,732.9 252.5,729.5 260.5,726.5 268.5,715.9 276.5,725.3 284.5,738.7 292.5,738.7 300.5,734.5 308.5,740.5 316.5,743.7 324.5,746.8 332.5,748.8 340.5,746.8 348.5,749.8 356.5,749.8 364.5,740.5 372.5,743.7 380.5,745.0 388.5,745.0 396.5,736.1 404.5,733.5 412.5,731.5 420.5,734.9 428.5,727.8 436.5,726.5 444.5,725.8 452.5,730.8 460.5,729.1 468.5,743.0 476.5,739.7 484.5,735.9 492.5,741.7 500.5,753.5 508.5,755.5 516.5,751.1 524.5,751.8 532.5,743.5 540.5,737.2 548.5,738.7 556.5,743.5 564.5,739.7 572.5,741.0 580.5,736.5 588.5,739.7 596.5,737.9 604.5,733.5 612.5,730.3 620.5,729.1 628.5,730.3 636.5,737.2 644.5,735.9 652.5,743.5 660.5,746.8 668.5,745.0 676.5,744.8 684.5,744.8 692.5,746.8 700.5,737.2 708.5,729.8 716.5,730.8 724.5,734.1 732.5,739.9 740.5,748.0 748.5,751.1 756.5,737.2 764.5,737.2 772.5,719.7 780.5,718.9 788.5,726.0 796.5,717.2 804.5,708.8 812.5,713.9 820.5,713.9 828.5,712.5 836.5,721.5 844.5,725.3 852.5,739.2 860.5,737.9 868.5,735.9 876.5,741.0 884.5,732.9 892.5,723.2 900.5,713.9 908.5,711.8 916.5,710.8 924.5,718.2 932.5,716.9 940.5,716.9 948.5,715.9 956.5,720.7 964.5,736.1 972.5,734.5 980.5,734.5 988.5,736.1 996.5,746.8 1004.5,746.0 1012.5,747.5 1020.5,749.3 1028.5,737.2 1036.5,737.9 1044.5,734.1 1052.5,733.5 1060.5,735.4 1068.5,746.0 1076.5,741.7 1084.5,733.7 1092.5,741.5 1100.5,741.5 1108.5,745.0 1116.5,745.0" fill="none" stroke="#1E90FF" stroke-width="1" />
<rect x="1420" y="29" width="2" height="1" fill="#000"/>
<rect x="1420" y="62" width="2" height="1" fill="#000"/>
<rect x="1420" y="95" width="2" height="1" fill="#000"/>
<rect x="1420" y="128" width="2" height="1" fill="#000"/>
<rect x="1420" y="161" width="2" height="1" fill="#000"/>
<rect x="1420" y="194" width="2" height="1" fill="#000"/>
<rect x="1420" y="227" width="2" height="1" fill="#000"/>
<rect x="1420" y="260" width="2" height="1" fill="#000"/>
<rect x="1420" y="293" width="2" height="1" fill="#000"/>
<rect x="1420" y="326" width="2" height="1" fill="#000"/>
<rect x="1420" y="359" width="2" height="1" fill="#000"/>
<rect x="1420" y="392" width="2" height="1" fill="#000"/>
<rect x="1420" y="458" width="2" height="1" fill="#000"/>
<rect x="1420" y="491" width="2" height="1" fill="#000"/>
<rect x="1420" y="524" width="2" height="1" fill="#000"/>
<rect x="1420" y="557" width="2" height="1" fill="#000"/>
<rect x="1420" y="564" width="2" height="1" fill="#000"/>
<rect x="1420" y="619" width="2" height="1" fill="#000"/>
<rect x="1420" y="664" width="2" height="1" fill="#000"/>
<rect x="1420" y="669" width="2" height="1" fill="#000"/>
<rect x="1420" y="707" width="2" height="1" fill="#000"/>
<rect x="1420" y="758" width="2" height="1" fill="#000"/>
<rect x="1420" y="796" width="2" height="1" fill="#000"/>
<rect x="4" y="798" width="1" height="3" fill="#000"/>
<rect x="68" y="798" width="1" height="3" fill="#000"/>
<rect x="132" y="798" width="1" height="3" fill="#000"/>
<rect x="196" y="798" width="1" height="3" fill="#000"/>
<rect x="260" y="798" width="1" height="3" fill="#000"/>
<rect x="324" y="798" width="1" height="3" fill="#000"/>
<rect x="388" y="798" width="1" height="3" fill="#000"/>
<rect x="452" y="798" width="1" height="3" fill="#000"/>
<rect x="516" y="798" width="1" height="3" fill="#000"/>
<rect x="580" y="798" width="1" height="3" fill="#000"/>
<rect x="644" y="798" width="1" height="3" fill="#000"/>
<rect x="708" y="798" width="1" height="3" fill="#000"/>
<rect x="772" y="798" width="1" height="3" fill="#000"/>
<rect x="836" y="798" width="1" height="3" fill="#000"/>
<rect x="900" y="798" width="1" height="3" fill="#000"/>
<rect x="964" y="798" width="1" height="3" fill="#000"/>
<rect x="1028" y="798" width="1" height="3" fill="#000"/>
<rect x="1092" y="798" width="1" height="3" fill="#000"/>
<rect x="1421" y="110" width="41" height="11" fill="#FF0000"/>
<rect x="1421" y="280" width="41" height="11" fill="#7CFC00"/>
<rect x="1421" y="400" width="41" height="11" fill="#000"/>
<rect x="1421" y="419" width="41" height="11" fill="#0000FF"/>
<rect x="1421" y="536" width="41" height="11" fill="#0000FF"/>
</g>
<text class="ax" transform="translate(1425.3 33) scale(0.895 1)" >1.14605</text>
<text class="ax" transform="translate(1425.5 33) scale(0.895 1)" >1.14605</text>
<text class="ax" transform="translate(1425.3 66) scale(0.895 1)" >1.14380</text>
<text class="ax" transform="translate(1425.5 66) scale(0.895 1)" >1.14380</text>
<text class="ax" transform="translate(1425.3 99) scale(0.895 1)" >1.14155</text>
<text class="ax" transform="translate(1425.5 99) scale(0.895 1)" >1.14155</text>
<text class="ax" transform="translate(1425.3 132) scale(0.895 1)" >1.13930</text>
<text class="ax" transform="translate(1425.5 132) scale(0.895 1)" >1.13930</text>
<text class="ax" transform="translate(1425.3 165) scale(0.895 1)" >1.13705</text>
<text class="ax" transform="translate(1425.5 165) scale(0.895 1)" >1.13705</text>
<text class="ax" transform="translate(1425.3 198) scale(0.895 1)" >1.13475</text>
<text class="ax" transform="translate(1425.5 198) scale(0.895 1)" >1.13475</text>
<text class="ax" transform="translate(1425.3 231) scale(0.895 1)" >1.13250</text>
<text class="ax" transform="translate(1425.5 231) scale(0.895 1)" >1.13250</text>
<text class="ax" transform="translate(1425.3 264) scale(0.895 1)" >1.13025</text>
<text class="ax" transform="translate(1425.5 264) scale(0.895 1)" >1.13025</text>
<text class="ax" transform="translate(1425.3 297) scale(0.895 1)" >1.12800</text>
<text class="ax" transform="translate(1425.5 297) scale(0.895 1)" >1.12800</text>
<text class="ax" transform="translate(1425.3 330) scale(0.895 1)" >1.12575</text>
<text class="ax" transform="translate(1425.5 330) scale(0.895 1)" >1.12575</text>
<text class="ax" transform="translate(1425.3 363) scale(0.895 1)" >1.12350</text>
<text class="ax" transform="translate(1425.5 363) scale(0.895 1)" >1.12350</text>
<text class="ax" transform="translate(1425.3 396) scale(0.895 1)" >1.12125</text>
<text class="ax" transform="translate(1425.5 396) scale(0.895 1)" >1.12125</text>
<text class="ax" transform="translate(1425.3 462) scale(0.895 1)" >1.11675</text>
<text class="ax" transform="translate(1425.5 462) scale(0.895 1)" >1.11675</text>
<text class="ax" transform="translate(1425.3 495) scale(0.895 1)" >1.11445</text>
<text class="ax" transform="translate(1425.5 495) scale(0.895 1)" >1.11445</text>
<text class="ax" transform="translate(1425.3 528) scale(0.895 1)" >1.11220</text>
<text class="ax" transform="translate(1425.5 528) scale(0.895 1)" >1.11220</text>
<text class="ax" transform="translate(1425.3 561) scale(0.895 1)" >1.10995</text>
<text class="ax" transform="translate(1425.5 561) scale(0.895 1)" >1.10995</text>
<text class="tg" transform="translate(1425.3 119) scale(0.895 1)" >1.14009</text>
<text class="tg" transform="translate(1425.5 119) scale(0.895 1)" >1.14009</text>
<text class="tg" transform="translate(1425.3 289) scale(0.895 1)" >1.12851</text>
<text class="tg" transform="translate(1425.5 289) scale(0.895 1)" >1.12851</text>
<text class="tg" transform="translate(1425.3 409) scale(0.895 1)" >1.12038</text>
<text class="tg" transform="translate(1425.5 409) scale(0.895 1)" >1.12038</text>
<text class="tg" transform="translate(1425.3 428) scale(0.895 1)" >1.11901</text>
<text class="tg" transform="translate(1425.5 428) scale(0.895 1)" >1.11901</text>
<text class="tg" transform="translate(1425.3 545) scale(0.895 1)" >1.11103</text>
<text class="tg" transform="translate(1425.5 545) scale(0.895 1)" >1.11103</text>
<text class="ax" transform="translate(1423 573) scale(0.895 1)" >0.004465</text>
<text class="ax" transform="translate(1423.2 573) scale(0.895 1)" >0.004465</text>
<text class="ax" transform="translate(1423 623) scale(0.895 1)" >0.00</text>
<text class="ax" transform="translate(1423.2 623) scale(0.895 1)" >0.00</text>
<text class="ax" transform="translate(1423 662.5) scale(0.895 1)" >-0.003715</text>
<text class="ax" transform="translate(1423.2 662.5) scale(0.895 1)" >-0.003715</text>
<text class="ax" transform="translate(1423 678) scale(0.895 1)" >100</text>
<text class="ax" transform="translate(1423.2 678) scale(0.895 1)" >100</text>
<text class="ax" transform="translate(1423 711) scale(0.895 1)" >70</text>
<text class="ax" transform="translate(1423.2 711) scale(0.895 1)" >70</text>
<text class="ax" transform="translate(1423 762) scale(0.895 1)" >30</text>
<text class="ax" transform="translate(1423.2 762) scale(0.895 1)" >30</text>
<text class="ax" transform="translate(1423 794) scale(0.895 1)" >0</text>
<text class="ax" transform="translate(1423.2 794) scale(0.895 1)" >0</text>
<text class="ax" transform="translate(3.7 809.6) scale(0.915 1)" >10 Feb 2019</text>
<text class="ax" transform="translate(3.9000000000000004 809.6) scale(0.915 1)" >10 Feb 2019</text>
<text class="ax" transform="translate(67.7 809.6) scale(0.915 1)" >19 Feb 2019</text>
<text class="ax" transform="translate(67.9 809.6) scale(0.915 1)" >19 Feb 2019</text>
<text class="ax" transform="translate(131.7 809.6) scale(0.915 1)" >28 Feb 2019</text>
<text class="ax" transform="translate(131.89999999999998 809.6) scale(0.915 1)" >28 Feb 2019</text>
<text class="ax" transform="translate(195.7 809.6) scale(0.915 1)" >10 Mar 2019</text>
<text class="ax" transform="translate(195.89999999999998 809.6) scale(0.915 1)" >10 Mar 2019</text>
<text class="ax" transform="translate(259.7 809.6) scale(0.915 1)" >19 Mar 2019</text>
<text class="ax" transform="translate(259.9 809.6) scale(0.915 1)" >19 Mar 2019</text>
<text class="ax" transform="translate(323.7 809.6) scale(0.915 1)" >28 Mar 2019</text>
<text class="ax" transform="translate(323.9 809.6) scale(0.915 1)" >28 Mar 2019</text>
<text class="ax" transform="translate(387.7 809.6) scale(0.915 1)" >7 Apr 2019</text>
<text class="ax" transform="translate(387.9 809.6) scale(0.915 1)" >7 Apr 2019</text>
<text class="ax" transform="translate(451.7 809.6) scale(0.915 1)" >16 Apr 2019</text>
<text class="ax" transform="translate(451.9 809.6) scale(0.915 1)" >16 Apr 2019</text>
<text class="ax" transform="translate(515.7 809.6) scale(0.915 1)" >26 Apr 2019</text>
<text class="ax" transform="translate(515.9000000000001 809.6) scale(0.915 1)" >26 Apr 2019</text>
<text class="ax" transform="translate(579.7 809.6) scale(0.915 1)" >6 May 2019</text>
<text class="ax" transform="translate(579.9000000000001 809.6) scale(0.915 1)" >6 May 2019</text>
<text class="ax" transform="translate(643.7 809.6) scale(0.915 1)" >15 May 2019</text>
<text class="ax" transform="translate(643.9000000000001 809.6) scale(0.915 1)" >15 May 2019</text>
<text class="ax" transform="translate(707.7 809.6) scale(0.915 1)" >24 May 2019</text>
<text class="ax" transform="translate(707.9000000000001 809.6) scale(0.915 1)" >24 May 2019</text>
<text class="ax" transform="translate(771.7 809.6) scale(0.915 1)" >3 Jun 2019</text>
<text class="ax" transform="translate(771.9000000000001 809.6) scale(0.915 1)" >3 Jun 2019</text>
<text class="ax" transform="translate(835.7 809.6) scale(0.915 1)" >12 Jun 2019</text>
<text class="ax" transform="translate(835.9000000000001 809.6) scale(0.915 1)" >12 Jun 2019</text>
<text class="ax" transform="translate(899.7 809.6) scale(0.915 1)" >21 Jun 2019</text>
<text class="ax" transform="translate(899.9000000000001 809.6) scale(0.915 1)" >21 Jun 2019</text>
<text class="ax" transform="translate(963.7 809.6) scale(0.915 1)" >1 Jul 2019</text>
<text class="ax" transform="translate(963.9000000000001 809.6) scale(0.915 1)" >1 Jul 2019</text>
<text class="ax" transform="translate(1027.7 809.6) scale(0.915 1)" >10 Jul 2019</text>
<text class="ax" transform="translate(1027.9 809.6) scale(0.915 1)" >10 Jul 2019</text>
<text class="ax" transform="translate(1091.7 809.6) scale(0.915 1)" >19 Jul 2019</text>
<text class="ax" transform="translate(1091.9 809.6) scale(0.915 1)" >19 Jul 2019</text>
<path d="M7 32L10.5 27.8L14 32Z" fill="#000"/>
<text class="ax" x="19.2" y="33" textLength="66.5" lengthAdjust="spacingAndGlyphs">EURUSD-,Daily</text>
<text class="ax" x="92.5" y="33" textLength="140.5" lengthAdjust="spacingAndGlyphs">1.12038 1.12073 1.12025 1.12038</text>
<text class="ax" x="8" y="574.5" textLength="154" lengthAdjust="spacingAndGlyphs">MACD(12,26,9) -0.001766 -0.001218</text>
<text class="ax" x="8" y="680" textLength="67.5" lengthAdjust="spacingAndGlyphs">RSI(14) 41.3793</text>
<g shape-rendering="crispEdges">
<rect x="6" y="40" width="221" height="66" fill="#fff"/>
<path d="M7 41H59V65H116V105H7Z" fill="url(#bg1)"/>
<path d="M118 65H174V41H226V105H118Z" fill="url(#bg1)"/>
<rect x="11" y="64" width="44" height="1" fill="#1010A0"/>
<rect x="11" y="65" width="44" height="1" fill="#8C8CF0"/>
<rect x="178" y="64" width="44" height="1" fill="#1010A0"/>
<rect x="178" y="65" width="44" height="1" fill="#8C8CF0"/>
<rect x="61.5" y="41.5" width="110" height="21" fill="#fff" stroke="#A8A8A8" stroke-width="1"/>
<rect x="62" y="42" width="20" height="20" fill="url(#btn)"/>
<rect x="82" y="42" width="1" height="20" fill="#A8A8A8"/>
<rect x="151" y="42" width="20" height="20" fill="url(#btn)"/>
<rect x="150" y="42" width="1" height="20" fill="#A8A8A8"/>
</g>
<path d="M69 50.4H74L71.5 53.3Z" fill="#4A5FB0"/>
<path d="M158 53.2H163.6L160.8 50Z" fill="#4A5FB0"/>
<text x="19.5" y="57" font-size="12" fill="#EDEDFF" textLength="25.5" lengthAdjust="spacingAndGlyphs">SELL</text>
<text x="187.5" y="57" font-size="12" fill="#EDEDFF" textLength="22.5" lengthAdjust="spacingAndGlyphs">BUY</text>
<text x="146.5" y="56" font-size="12" fill="#000" text-anchor="end">1.00</text>
<text x="27" y="96" font-size="12" font-weight="bold" fill="#fff" textLength="24" lengthAdjust="spacingAndGlyphs">1.12</text>
<text x="55" y="96" font-size="34.5" fill="#fff" stroke="url(#bg1)" stroke-width="0.7" textLength="33.5" lengthAdjust="spacingAndGlyphs">03</text>
<text x="94" y="80" font-size="12" font-weight="bold" fill="#fff">8</text>
<text x="138" y="96" font-size="12" font-weight="bold" fill="#fff" textLength="24" lengthAdjust="spacingAndGlyphs">1.12</text>
<text x="166" y="96" font-size="34.5" fill="#fff" stroke="url(#bg1)" stroke-width="0.7" textLength="33.5" lengthAdjust="spacingAndGlyphs">05</text>
<text x="205" y="80" font-size="12" font-weight="bold" fill="#fff">6</text>
<g shape-rendering="crispEdges">
<rect x="0" y="818" width="1462" height="1" fill="#E3E3E3"/>
<rect x="0" y="819" width="1462" height="1" fill="#fff"/>
<rect x="0" y="821" width="1462" height="20" fill="#F0F0F0"/>
<rect x="0" y="820" width="1462" height="1" fill="#000"/>
<rect x="0" y="821" width="1" height="18" fill="#696969"/>
<rect x="1" y="821" width="1" height="18" fill="#fff"/>
<rect x="4" y="821" width="1" height="18" fill="#fff"/>
<rect x="6" y="819" width="106" height="19" fill="#fff"/>
<rect x="5" y="820" width="1" height="19" fill="#000"/>
<rect x="5" y="838" width="108" height="1" fill="#000"/>
<rect x="112" y="820" width="1" height="19" fill="#000"/>
<rect x="222" y="823" width="1" height="13" fill="#808080"/>
<rect x="329" y="823" width="1" height="13" fill="#808080"/>
<rect x="438" y="823" width="1" height="13" fill="#808080"/>
<rect x="550" y="823" width="1" height="13" fill="#808080"/>
<rect x="670" y="823" width="1" height="13" fill="#808080"/>
<rect x="777" y="823" width="1" height="13" fill="#808080"/>
<rect x="873" y="823" width="1" height="13" fill="#808080"/>
<rect x="953" y="823" width="1" height="13" fill="#808080"/>
</g>
<text x="16.5" y="835" font-size="12" fill="#000" textLength="84.5" lengthAdjust="spacingAndGlyphs">EURUSD-,Daily</text>
<text class="tab" x="123" y="835" textLength="86.5" lengthAdjust="spacingAndGlyphs">AUDUSD-,Daily</text>
<text class="tab" x="233.5" y="835" textLength="83" lengthAdjust="spacingAndGlyphs">USDCHF-,Daily</text>
<text class="tab" x="340" y="835" textLength="86" lengthAdjust="spacingAndGlyphs">USDCAD-,Daily</text>
<text class="tab" x="449.5" y="835" textLength="87.5" lengthAdjust="spacingAndGlyphs">USDCNH-,Daily</text>
<text class="tab" x="560.5" y="835" textLength="96.5" lengthAdjust="spacingAndGlyphs">EURCHF-,Weekly</text>
<text class="tab" x="681" y="835" textLength="83" lengthAdjust="spacingAndGlyphs">XAUUSD-,M15</text>
<text class="tab" x="788" y="835" textLength="72" lengthAdjust="spacingAndGlyphs">GBPUSD-,H1</text>
<text class="tab" x="884.5" y="835" textLength="56" lengthAdjust="spacingAndGlyphs">UKOil-,H1</text>
<path d="M1438 826.4V832.6L1434.6 829.5Z" fill="#909090"/>
<path d="M1454 826.4V832.6L1457.4 829.5Z" fill="#909090"/>
</svg></body></html>
